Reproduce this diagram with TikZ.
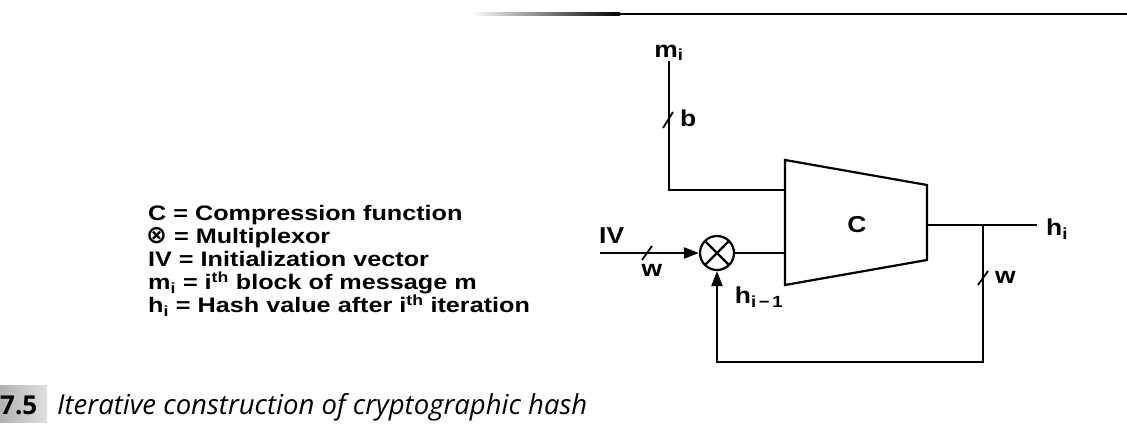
\documentclass[tikz,border=0pt]{standalone}
\usepackage{fontspec}
\setmainfont{Liberation Sans}[FakeStretch=1.15]
\newfontfamily\legfont{Liberation Sans}[FakeStretch=1.2]
\newfontfamily\capfont{Open Sans}
\newfontfamily\symfont{DejaVu Sans}
\usetikzlibrary{arrows.meta,positioning}

\begin{document}
\begin{tikzpicture}[
    x=1pt, y=-1pt,
    wire/.style={line width=2.2pt},
    arrow/.style={wire, -{Triangle[length=15pt, width=11pt]}},
    lab/.style={font=\fontsize{23}{24}\selectfont\bfseries, inner sep=0pt},
    legend/.style={font=\legfont\fontsize{21}{22}\selectfont\bfseries, inner sep=0pt, anchor=base west},
    mux/.style={circle, draw, line width=2.2pt, minimum size=34pt, inner sep=0pt,
        path picture={\draw[line width=2.2pt]
            (path picture bounding box.north west) -- (path picture bounding box.south east)
            (path picture bounding box.north east) -- (path picture bounding box.south west);}},
    tick/.style={line width=1.8pt}
]
\useasboundingbox (0,0) rectangle (1127,435);

% Page rule
\shade[left color=white, right color=black] (470,13) rectangle (620,15.5);
\fill (620,13) rectangle (1127,15.5);

% Compression function
\draw[wire] (785,160) -- (927,185) -- (927,260) -- (785,285) -- cycle;
\node[lab] (C) at (857,225) {C};
\coordinate (Cm) at (785,190);
\coordinate (Cx) at (785,253);
\coordinate (Co) at (927,225);

% Multiplexor
\node[mux] (mux) at (717,253) {};

% Message block
\node[lab, anchor=south] (mi) at (669,61) {m\textsubscript{i}};
\draw[wire] (mi.south) |- (Cm);
\draw[tick] (663,128) -- (673,112);
\node[lab, anchor=west] (b) at (680,118) {b};

% IV input
\node[lab, anchor=south west] (iv) at (599,244) {IV};
\coordinate (ivin) at (600,253);
\draw[arrow] (ivin) -- (mux);
\draw[tick] (642,260) -- (652,246);
\node[lab] (w1) at (652,270) {w};

% Into C
\draw[wire] (mux) -- (Cx);

% Output
\coordinate (hout) at (1037,225);
\draw[wire] (Co) -- (hout);
\node[lab, anchor=west] (hi) at (1046,229) {h\textsubscript{i}};

% Feedback
\coordinate (split) at (983,225);
\coordinate (fb) at (983,362);
\draw[arrow] (split) -- (fb) -| (mux.south);
\draw[tick] (978,285) -- (988,271);
\node[lab, anchor=west] (w2) at (995,277) {w};
\node[lab] (hprev) at (759,297) {h\textsubscript{i\,−\,1}};

% Legend
\node[legend] (l1) at (148,221) {C = Compression function};
\node[legend] (l2) at (146,244) {{\symfont\fontsize{25}{22}\selectfont ⊗} = Multiplexor};
\node[legend] (l3) at (148,267) {IV = Initialization vector};
\node[legend] (l4) at (148,290) {m\textsubscript{i} = i\textsuperscript{th} block of message m};
\node[legend] (l5) at (148,313) {h\textsubscript{i} = Hash value after i\textsuperscript{th} iteration};

% Caption
\shade[left color=gray!60, right color=gray!25] (0,386) rectangle (47,422);
\node[font=\capfont\fontsize{26}{26}\selectfont\bfseries, anchor=base west, inner sep=0pt] (fignum) at (0,414) {7.5};
\node[font=\capfont\fontsize{27.5}{28}\selectfont\itshape, anchor=base west, inner sep=0pt] (figcap) at (57,414) {Iterative construction of cryptographic hash};

\end{tikzpicture}
\end{document}
